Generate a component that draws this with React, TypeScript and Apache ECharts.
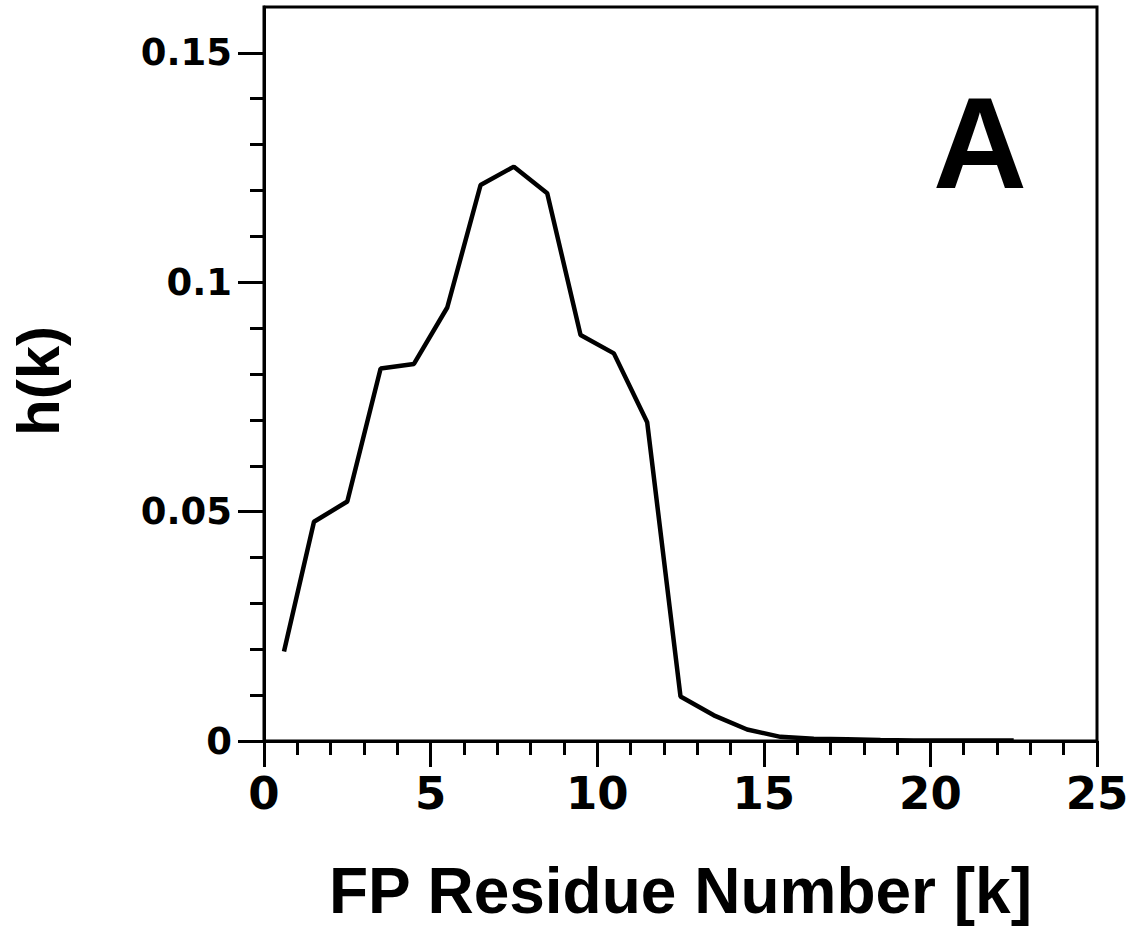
import React, { useEffect, useRef } from "react";
import * as echarts from "echarts";

const kValues = [0.6, 1.5, 2.5, 3.5, 4.5, 5.5, 6.5, 7.5, 8.5, 9.5, 10.5, 11.5, 12.5, 13.5, 14.5, 15.5, 16.5, 17.5, 18.5, 19.5, 20.5, 21.5, 22.5];
const hValues = [0.0195, 0.0478, 0.0522, 0.0812, 0.0822, 0.0945, 0.1212, 0.1252, 0.1194, 0.0885, 0.0845, 0.0695, 0.0097, 0.0056, 0.0025, 0.0009, 0.0005, 0.0004, 0.0002, 0.0001, 0.0001, 0.0001, 0.0001];
const yTickValues = [0, 0.05, 0.1, 0.15];
const xTitle = "FP Residue Number [k]";
const yTitle = "h(k)";
const panelLabel = "A";

export default function App() {
  const ref = useRef<HTMLDivElement>(null);
  useEffect(() => {
    if (!ref.current) return;
    const chart = echarts.init(ref.current, null, { renderer: "svg" });
    const data = kValues.map((k, i) => [k, hValues[i]]);
    const tickFont = { fontFamily: "DejaVu Sans", fontWeight: "bold" as const, color: "#000" };
    chart.setOption({
      animation: false,
      backgroundColor: "#fff",
      grid: {
        left: 262,
        right: 40,
        top: 7,
        bottom: 195,
        show: true,
        borderColor: "#000",
        borderWidth: 3,
        backgroundColor: "transparent",
      },
      xAxis: {
        type: "value",
        min: 0,
        max: 25,
        interval: 5,
        axisLine: { show: true, lineStyle: { color: "#000", width: 3 } },
        axisTick: { show: true, length: 26, lineStyle: { color: "#000", width: 3 } },
        minorTick: { show: true, splitNumber: 5, length: 14, lineStyle: { color: "#000", width: 3 } },
        splitLine: { show: false },
        minorSplitLine: { show: false },
        axisLabel: { ...tickFont, fontSize: 45, margin: 30 },
        name: xTitle,
        nameLocation: "middle",
        nameGap: 118,
        nameTextStyle: { fontFamily: "Liberation Sans", fontWeight: "bold", fontSize: 64, color: "#000" },
      },
      yAxis: {
        type: "value",
        min: 0,
        max: 0.16,
        interval: 0.05,
        axisLine: { show: true, lineStyle: { color: "#000", width: 3 } },
        axisTick: { show: true, length: 26, customValues: yTickValues, lineStyle: { color: "#000", width: 3 } },
        minorTick: { show: true, splitNumber: 5, length: 14, lineStyle: { color: "#000", width: 3 } },
        splitLine: { show: false },
        minorSplitLine: { show: false },
        axisLabel: { ...tickFont, fontSize: 37, margin: 32, customValues: yTickValues },
        name: yTitle,
        nameLocation: "middle",
        nameGap: 196,
        nameTextStyle: { fontFamily: "Liberation Sans", fontWeight: "bold", fontSize: 60, color: "#000", padding: [0, 14, 0, 0] },
      },
      graphic: [
        {
          type: "text",
          left: 933,
          top: 78,
          style: {
            text: panelLabel,
            font: "bold 130px 'Liberation Sans'",
            fill: "#000",
          },
        },
      ],
      series: [
        {
          type: "line",
          data,
          showSymbol: false,
          symbol: "none",
          smooth: false,
          lineStyle: { color: "#000", width: 4.5 },
          clip: false,
        },
      ],
    });
    return () => chart.dispose();
  }, []);
  return (
    <div
      ref={ref}
      style={{ position: "absolute", left: 0, top: 0, width: 1137, height: 936 }}
    />
  );
}
